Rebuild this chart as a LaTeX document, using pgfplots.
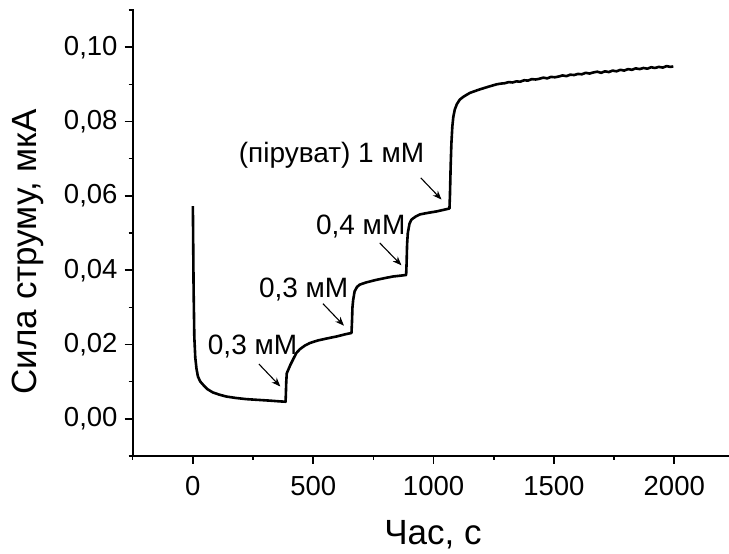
\documentclass[border=0pt]{standalone}
\usepackage{pgfplots}
\pgfplotsset{compat=1.18}
\usepackage{fontspec}
\setmainfont{Liberation Sans}
\usetikzlibrary{arrows.meta}

\pgfplotstableread{
t I
0 0.0572
3 0.0350
6 0.0220
10 0.0165
15 0.0135
21 0.0114
30 0.0101
42 0.0092
60 0.0080
83 0.0071
110 0.0065
139 0.0060
180 0.0056
222 0.0053
270 0.0051
319 0.0049
360 0.0047
385 0.0046
386 0.0060
388 0.0100
390 0.0122
395 0.0130
405 0.0145
418 0.0162
430 0.0177
444 0.0187
465 0.0197
486 0.0204
520 0.0211
555 0.0216
600 0.0222
630 0.0227
659 0.0231
661 0.0260
663 0.0300
666 0.0320
672 0.0343
682 0.0355
693 0.0361
720 0.0367
763 0.0374
800 0.0379
832 0.0383
860 0.0385
886 0.0387
888 0.0420
890 0.0470
893 0.0500
900 0.0525
908 0.0536
925 0.0544
943 0.0550
975 0.0554
1012 0.0558
1040 0.0562
1066 0.0566
1068 0.0600
1071 0.0680
1074 0.0740
1078 0.0787
1082 0.0812
1088 0.0832
1097 0.0847
1109 0.0859
1125 0.0867
1151 0.0877
1190 0.0886
1230 0.0894
1262 0.0900
1280 0.0902
1296 0.0903
1312 0.0906
1328 0.0905
1344 0.0908
1360 0.0907
1376 0.0911
1392 0.0910
1408 0.0914
1424 0.0913
1440 0.0915
1456 0.0918
1472 0.0916
1488 0.0920
1504 0.0919
1520 0.0921
1536 0.0924
1552 0.0922
1568 0.0926
1584 0.0925
1600 0.0928
1616 0.0927
1632 0.0931
1648 0.0929
1664 0.0932
1680 0.0934
1696 0.0931
1712 0.0935
1728 0.0933
1744 0.0937
1760 0.0935
1776 0.0939
1792 0.0937
1808 0.0941
1824 0.0939
1840 0.0943
1856 0.0941
1872 0.0944
1888 0.0942
1904 0.0946
1920 0.0944
1936 0.0947
1952 0.0945
1968 0.0949
1984 0.0947
1996 0.0948
}\curvedata

\begin{document}
\begin{tikzpicture}
\begin{axis}[
  at={(0,0)}, anchor=south west,
  scale only axis, width=596.3pt, height=446pt,
  xmin=-250, xmax=2227.4, ymin=-0.01, ymax=0.11,
  axis x line*=bottom, axis y line*=left,
  axis line style={line width=1.8pt, line cap=rect},
  tick align=outside,
  major tick length=8pt, minor tick length=4pt,
  tick style={black, line width=1.6pt},
  xtick={0,500,1000,1500,2000},
  xticklabels={0,500,1000,1500,2000},
  minor xtick={-250,250,750,1250,1750},
  ytick={0,0.02,0.04,0.06,0.08,0.1},
  yticklabels={{0,00},{0,02},{0,04},{0,06},{0,08},{0,10}},
  minor ytick={-0.01,0.01,0.03,0.05,0.07,0.09,0.11},
  tick label style={font=\fontsize{27.5}{32}\selectfont, inner sep=0pt},
  yticklabel style={xshift=-7pt},
  xticklabel style={yshift=-12pt},
  clip=false,
]
\addplot[black, line width=2.6pt, line join=round] table[x=t, y=I] {\curvedata};

\node[font=\fontsize{28}{33}\selectfont, anchor=base, inner sep=0pt] at (axis cs:248,0.01724) {0,3 мМ};
\draw[line width=1.1pt, -{Stealth[length=9pt,width=7pt]}] (axis cs:274.4,0.01474) -- (axis cs:363.4,0.00870);

\node[font=\fontsize{28}{33}\selectfont, anchor=base, inner sep=0pt] at (axis cs:460.3,0.03252) {0,3 мМ};
\draw[line width=1.1pt, -{Stealth[length=9pt,width=7pt]}] (axis cs:540.5,0.03098) -- (axis cs:627.9,0.02505);

\node[font=\fontsize{28}{33}\selectfont, anchor=base, inner sep=0pt] at (axis cs:697.3,0.04957) {0,4 мМ};
\draw[line width=1.1pt, -{Stealth[length=9pt,width=7pt]}] (axis cs:776.3,0.04733) -- (axis cs:866.5,0.04130);

\node[font=\fontsize{28}{33}\selectfont, anchor=base, inner sep=0pt] at (axis cs:576,0.06897) {(піруват) 1 мМ};
\draw[line width=1.1pt, -{Stealth[length=9pt,width=7pt]}] (axis cs:946.8,0.06484) -- (axis cs:1032.9,0.05900);
\end{axis}
\node[rotate=90, anchor=base, font=\fontsize{35}{40}\selectfont, inner sep=0pt] at (-95.7pt,204pt) {Сила струму, мкА};
\node[anchor=base, font=\fontsize{35}{40}\selectfont, inner sep=0pt] at (300.3pt,-89pt) {Час, с};
\pgfresetboundingbox
\path[use as bounding box] (-132.7pt,-98pt) rectangle (596.3pt,456pt);
\end{tikzpicture}
\end{document}
